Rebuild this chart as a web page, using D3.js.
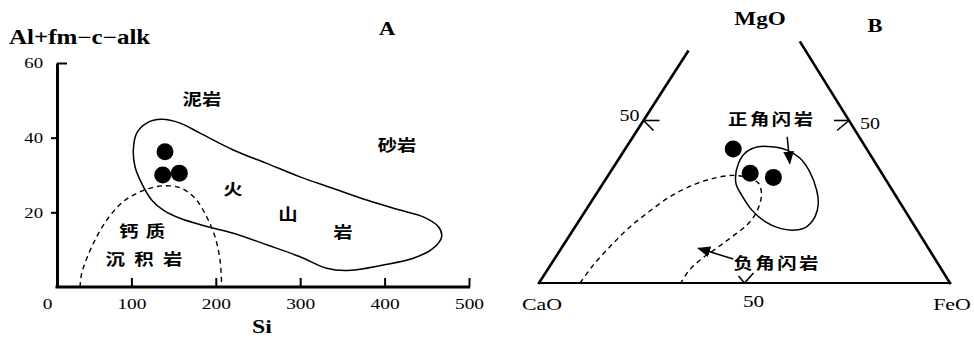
<!DOCTYPE html>
<html><head><meta charset="utf-8">
<script src="https://cdn.jsdelivr.net/npm/d3@7"></script>
<style>body{margin:0;background:#fff}svg{display:block}</style>
</head><body>
<script>
// ---------- Panel A data ----------
const siTicks = [0, 100, 200, 300, 400, 500];
const yTicks = [20, 40, 60];
// [Si, Al+fm-c-alk]
const volcanicField = [[102.3,36.7],[106.3,41.2],[118.1,43.9],[135.9,44.9],[157.6,43.9],[181.3,41.2],[220.7,36.7],[260.3,33.1],[299.8,29.5],[339.2,26.4],[378.8,23.3],[418.2,20.6],[445.8,18.8],[463.6,16.2],[467.6,13.5],[457.7,10.4],[434,7.7],[398.4,5.9],[355.1,4.4],[331.4,5.0],[299.8,8.1],[260.3,11.3],[220.7,14.4],[189.2,16.2],[157.6,18.4],[137.8,20.6],[124,23.3],[110.2,28.7],[104.3,32.2]];
const calcSedField = [[39.1,0],[41.1,3.7],[45,6.4],[54.9,11.7],[70.7,17.9],[90.4,22.9],[110.2,25.5],[130,26.9],[145.7,27.1],[159.6,26.4],[175.4,23.8],[189.2,18.8],[199,13.5],[205,7.2],[207,0]];
const samplesA = [[139.8,36.2],[137.1,30.0],[156.8,30.5]];
const labelsA = [
  {t:"泥岩", si:183.6, v:50.4, ls:0},
  {t:"砂岩", si:414.7, v:38.3, ls:0},
  {t:"火", si:220.4, v:26.5, ls:0},
  {t:"山", si:285.5, v:19.8, ls:0},
  {t:"岩", si:350.7, v:15.0, ls:0},
  {t:"钙质", si:112.6, v:15.3, ls:6},
  {t:"沉积岩", si:114.9, v:7.8, ls:7.5}
];

// ---------- Panel B data: [CaO, MgO, FeO] % ----------
const ternTicks = [50];
const orthoField = [[33.4,36.8,29.8],[29.6,40.4,30.0],[26.1,41.9,32.0],[22.8,41.9,35.3],[19.6,40.9,39.5],[17.6,38.4,44.0],[17.3,34.2,48.5],[18.4,28.6,53.0],[20.0,24.5,55.5],[22.8,20.4,56.8],[26.4,17.3,56.3],[29.7,16.3,54.0],[33.1,16.8,50.1],[35.7,18.9,45.4],[37.2,22.5,40.3],[37.4,27.1,35.5],[37.0,30.7,32.3]];
const paraField = [[90,0,10],[84.1,5.5,10.4],[77.2,11.2,11.6],[70.7,16.3,13.0],[63.3,21.4,15.3],[55.0,26.6,18.4],[47.6,30.2,22.2],[41.8,32.2,26.0],[36.5,33.1,30.4],[32.8,32.2,35.0],[31.5,30.7,37.8],[32.3,27.6,40.1],[34.2,24.5,41.3],[37.2,20.9,41.9],[40.7,17.8,41.5],[45.6,14.5,39.9],[51.4,10.8,37.8],[57.3,7.1,35.6],[62.0,3.5,34.5],[65.5,0,34.5]];
const samplesB = [[32.5,41.2,26.3],[32.0,33.8,34.2],[27.0,32.5,40.5]];
const labelsB = [
  {t:"正角闪岩", p:[18.7,50.8,30.5]},
  {t:"负角闪岩", p:[39.3,6.2,54.5]}
];
const arrowsB = [
  {from:[17.5,45.0,37.5], to:[20.9,36.8,42.3]},
  {from:[49.1,7.4,43.5], to:[56.0,10.7,33.3]}
];
const edgesB = [
  {from:[100,0,0], to:[28.8,71.2,0], w:2.6},
  {from:[0,0,100], to:[0,74,26], w:2.6},
  {from:[100,0,0], to:[0,0,100], w:2.2}
];

const W = 974, H = 338;
const serif = "'Liberation Serif', 'Times New Roman', serif";
const cjk = "'Noto Sans CJK SC', sans-serif";
const SX = 1.25; // horizontal stretch of lettering in the original

const svg = d3.select("body").append("svg").attr("width", W).attr("height", H);
const defs = svg.append("defs");
defs.append("marker").attr("id","ah").attr("markerUnits","userSpaceOnUse")
  .attr("viewBox","0 0 12 10").attr("refX",11).attr("refY",5)
  .attr("markerWidth",13).attr("markerHeight",11).attr("orient","auto")
  .append("path").attr("d","M0,0 L12,5 L0,10 Z").attr("fill","#000");

function sText(g, t, px, py, size, anchor, weight) {
  return g.append("text").attr("transform", `translate(${px},${py}) scale(${SX},1)`)
    .attr("text-anchor", anchor || "middle").attr("font-family", serif)
    .attr("font-size", size).attr("font-weight", weight || 400).attr("fill", "#000").text(t);
}

// ================= Panel A =================
const x = d3.scaleLinear().domain([0, 500]).range([47, 469]);
const y = d3.scaleLinear().domain([0, 60]).range([287, 63]);
const yAxisX = 57;
const gA = svg.append("g");

// x axis (ticks inward)
const xAxis = gA.append("g").attr("transform", `translate(0,${y(0)})`)
  .call(d3.axisBottom(x).tickValues(siTicks).tickSizeInner(-9).tickSizeOuter(0).tickPadding(11).tickFormat(d3.format("d")));
xAxis.select(".domain").remove();
xAxis.selectAll(".tick line").attr("stroke","#000").attr("stroke-width",2)
  .filter(d => d === 0).remove();
xAxis.selectAll(".tick text").attr("font-family", serif).attr("font-size", 15.5).attr("fill","#000")
  .attr("transform", `scale(${SX},1)`);
gA.append("line").attr("x1", yAxisX - 1.5).attr("x2", x(500) + 1).attr("y1", y(0)).attr("y2", y(0))
  .attr("stroke","#000").attr("stroke-width",3);

// y axis
const yAxis = gA.append("g").attr("transform", `translate(${yAxisX},0)`)
  .call(d3.axisLeft(y).tickValues(yTicks).tickSize(6).tickSizeOuter(0).tickPadding(8));
yAxis.select(".domain").attr("stroke","#000").attr("stroke-width",3);
yAxis.selectAll(".tick line").attr("stroke","#000").attr("stroke-width",2)
  .filter(d => d === 60).attr("x2", 10);
yAxis.selectAll(".tick text").attr("font-family", serif).attr("font-size", 15).attr("fill","#000")
  .attr("x", -14 / SX).attr("transform", `scale(${SX},1)`);

sText(gA, "Al+fm\u2212c\u2212alk", 9, 44, 20, "start", 700);
sText(gA, "A", 387, 35, 18, "middle", 700);
sText(gA, "Si", (x(0)+x(500))/2 + 4, 333, 19, "middle", 700);

const lineA = d3.line().x(d => x(d[0])).y(d => y(d[1]));
gA.append("path").datum(volcanicField).attr("d", lineA.curve(d3.curveCatmullRomClosed.alpha(0.5)))
  .attr("fill","none").attr("stroke","#000").attr("stroke-width",1.5);
gA.append("path").datum(calcSedField).attr("d", d3.line().x(d => x(d[0])).y(d => y(d[1])).curve(d3.curveCatmullRom.alpha(0.5)))
  .attr("fill","none").attr("stroke","#000").attr("stroke-width",1.4).attr("stroke-dasharray","5,4");
gA.selectAll("circle.sa").data(samplesA).join("circle").attr("class","sa")
  .attr("cx", d => x(d[0])).attr("cy", d => y(d[1])).attr("r", 8.5).attr("fill","#000");

function cjkLabel(g, t, px, py, ls) {
  g.append("text").attr("transform", `translate(${px},${py}) scale(${SX},1)`)
    .attr("text-anchor","middle").attr("dominant-baseline","central")
    .attr("dx", ls/2)
    .attr("font-family", cjk).attr("font-weight", 700).attr("font-size", 15.5)
    .attr("letter-spacing", ls).attr("fill","#000").text(t);
}
labelsA.forEach(l => cjkLabel(gA, l.t, x(l.si), y(l.v), l.ls));

// ================= Panel B =================
const C = {x:539, y:283}, F = {x:950, y:283}, M = {x:748, y:-42};
const bx = d3.scaleLinear().domain([0, 100]).range([C.x, F.x]);
const by = d3.scaleLinear().domain([0, 100]).range([C.y, M.y]);
const k = (M.x - C.x) / (F.x - C.x) * 100;
const proj = p => { const s = p[0]+p[1]+p[2]; const mg = p[1]*100/s, fe = p[2]*100/s; return [bx(fe + mg*k/100), by(mg)]; };
const gB = svg.append("g");

edgesB.forEach(e => {
  const a = proj(e.from), b = proj(e.to);
  gB.append("line").attr("x1",a[0]).attr("y1",a[1]).attr("x2",b[0]).attr("y2",b[1])
    .attr("stroke","#000").attr("stroke-width",e.w).attr("stroke-linecap","square");
});

// tick marks at 50
ternTicks.forEach(t => {
  const L = proj([100-t, t, 0]), R = proj([0, t, 100-t]), Bt = proj([100-t, 0, t]);
  const tk = (p, arms) => arms.forEach(a => gB.append("line").attr("x1",p[0]).attr("y1",p[1])
      .attr("x2",p[0]+a[0]).attr("y2",p[1]+a[1]).attr("stroke","#000").attr("stroke-width",1.6));
  tk(L, [[16,0],[10,10]]);
  tk(R, [[-15,0],[-12,10]]);
  tk(Bt, [[-6,-7],[9,-10]]);
  sText(gB, t, L[0]-4, L[1], 16, "end");
  sText(gB, t, R[0]+11, R[1]+8, 16, "start");
  sText(gB, t, Bt[0]+9, Bt[1]+24, 17, "middle");
});

const vtx = [{t:"CaO", p:[100,0,0], dx:3, dy:27},{t:"FeO", p:[0,0,100], dx:2, dy:27}];
vtx.forEach(v => { const p = proj(v.p); sText(gB, v.t, p[0]+v.dx, p[1]+v.dy, 17.5, "middle"); });
sText(gB, "MgO", 760, 25, 18.5, "middle", 700);
sText(gB, "B", 875, 32, 18, "middle", 700);

const lineB = d3.line().x(d => proj(d)[0]).y(d => proj(d)[1]);
gB.append("path").datum(orthoField).attr("d", lineB.curve(d3.curveCatmullRomClosed.alpha(0.5)))
  .attr("fill","none").attr("stroke","#000").attr("stroke-width",1.5);
gB.append("path").datum(paraField).attr("d", d3.line().x(d => proj(d)[0]).y(d => proj(d)[1]).curve(d3.curveCatmullRom.alpha(0.5)))
  .attr("fill","none").attr("stroke","#000").attr("stroke-width",1.4).attr("stroke-dasharray","5,4");
gB.selectAll("circle.sb").data(samplesB).join("circle").attr("class","sb")
  .attr("cx", d => proj(d)[0]).attr("cy", d => proj(d)[1]).attr("r", 8.5).attr("fill","#000");
arrowsB.forEach(a => { const p0 = proj(a.from), p1 = proj(a.to);
  gB.append("line").attr("x1",p0[0]).attr("y1",p0[1]).attr("x2",p1[0]).attr("y2",p1[1])
    .attr("stroke","#000").attr("stroke-width",1.5).attr("marker-end","url(#ah)"); });
labelsB.forEach(l => { const p = proj(l.p); cjkLabel(gB, l.t, p[0], p[1], 2); });
</script>
</body></html>
